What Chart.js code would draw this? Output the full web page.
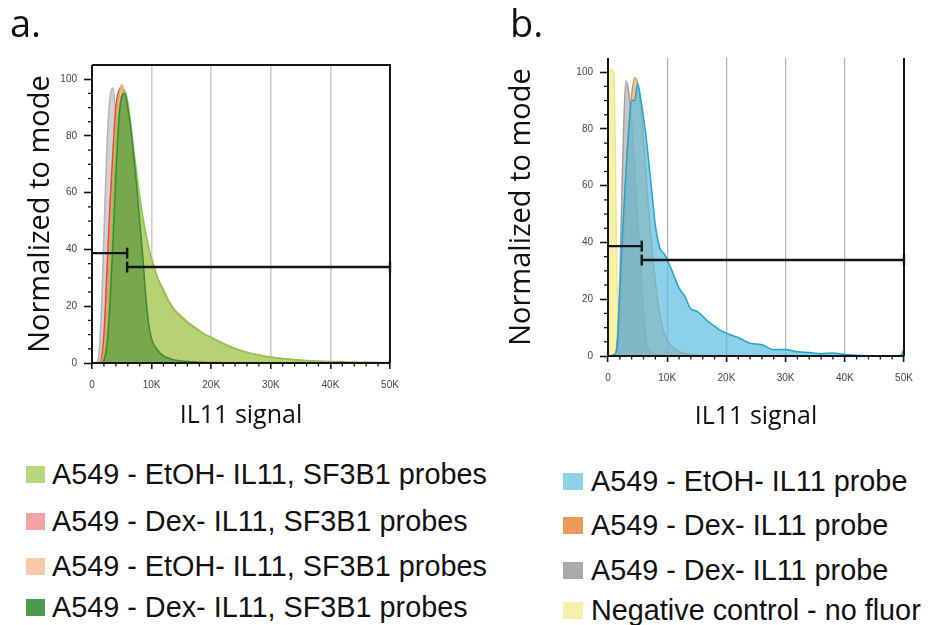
<!DOCTYPE html>
<html><head><meta charset="utf-8">
<script src="https://cdn.jsdelivr.net/npm/chart.js@4.4.1/dist/chart.umd.min.js"></script>
<style>
html,body{margin:0;padding:0;background:#fff;width:928px;height:625px;overflow:hidden;}
#wrap{position:relative;width:928px;height:625px;}
canvas{position:absolute;top:0;}
#cA{left:0;width:470px;height:440px;}
#cB{left:470px;width:458px;height:440px;}
.panel{position:absolute;font-family:'Open Sans',sans-serif;font-size:38px;line-height:38px;color:#111;}
.leg{position:absolute;display:flex;align-items:center;height:30px;font-family:'Liberation Sans',Arial,sans-serif;font-size:28.8px;line-height:30px;color:#111;white-space:nowrap;}
.sw{display:inline-block;flex:none;}
</style></head>
<body><div id="wrap">
<canvas id="cA" width="470" height="440"></canvas>
<canvas id="cB" width="458" height="440"></canvas>
<div class="panel" style="left:10px;top:3px">a.</div>
<div class="panel" style="left:510px;top:3px">b.</div>
<div id="legA"></div><div id="legB"></div>
</div>
<script>
// ---------- data ----------
const xSignal = [0,500,1000,1500,2000,2500,3000,3500,4000,4500,5000,
  5500,6000,6500,7000,7500,8000,8500,9000,9500,10000,
  11000,12000,13000,14000,15000,16000,17000,18000,19000,20000,
  22000,24000,26000,28000,30000,32000,34000,36000,38000,40000,42000,44000,46000,48000,49500,50000];

// Panel a
const aDexDarkGreen = [0,0,0,0,1,6,20,42,66,85,94, 95,90,83,73,62,50,38,24,14,8.5,
  4.5,2.5,1.6,1,0.7,0.5,0.4,0.3,0.2,0.2, 0.1,0.1,0,0,0,0,0,0,0,0,0,0,0,0,0,0];
const aEtohLightGreen = [0,0,0,0,2,9,28,54,76,89,94, 96,92,84,75,67,59,52,46,41,36.5,
  30,25,21,18,16,14.2,12.6,11.2,10,9, 6.8,5,3.7,2.8,2,1.5,1.1,0.8,0.6,0.5,0.4,0.3,0.3,0.2,0.2,0.5];
const aEtohPeach = [0,0,0,0.5,4,16,38,63,83,94,98, 95,89,81,73,65,57,50,45,40,37,
  30,26,21.5,18.5,16.5,14.5,13,11.5,10,9, 7,5.2,3.8,2.8,2.1,1.6,1.2,0.9,0.6,0.4,0.3,0.2,0.1,0.1,0.1,0];
const aDexPink = [0,0,0,1,10,32,55,74,90,96,97, 92,84,74,63,51,40,29,19,12,7,
  3.5,2,1.3,0.9,0.6,0.5,0.4,0.3,0.2,0.2, 0.1,0.1,0,0,0,0,0,0,0,0,0,0,0,0,0,0];
const aGrayControl = [0,0,1,14,45,76,93,97,86,66,45, 28,16,9,5,3,2,1.2,0.8,0.5,0.3,
  0.2,0.1,0.1,0,0,0,0,0,0,0, 0,0,0,0,0,0,0,0,0,0,0,0,0,0,0,0];

// Panel b
const bEtohBlue = [0,0,0.5,2.5,22,45,64,80,90,90,96, 91,84,76,66,56,46,40,37,36,34,
  29,24,21,16.5,15.8,14,12,10.5,9,8, 6.5,4.5,4,2.2,2.3,1.5,1.2,0.8,1.1,0.5,0.3,0.1,0.1,0.1,0.3,2.6];
const bDexOrange = [0,0,0,1,8,30,58,80,92,98,96, 88,76,62,48,36,26,18,12,8,5.5,
  3,1.6,0.9,0.5,0.3,0.2,0.1,0,0,0, 0,0,0,0,0,0,0,0,0,0,0,0,0,0,0,0];
const bDexGray = [0,0,0,4,28,70,97,93,82,66,48, 32,15,5,2,1,0.5,0.3,0.2,0.1,0,
  0,0,0,0,0,0,0,0,0,0, 0,0,0,0,0,0,0,0,0,0,0,0,0,0,0,0];
const bNegYellow = [100,101,99,30,1,0,0,0,0,0,0, 0,0,0,0,0,0,0,0,0,0,
  0,0,0,0,0,0,0,0,0,0, 0,0,0,0,0,0,0,0,0,0,0,0,0,0,0,0];

// Gates (x bounds, y level of each bracket)
const gateAx = [0, 5900, 50000];
const gateAy = [38.7, 33.8];
const gateBx = [0, 5700, 50000];
const gateBy = [38.7, 33.8];

// Axis ticks
const xTickValues = [0,10000,20000,30000,40000,50000];
const xTickLabels = ['0','10K','20K','30K','40K','50K'];
const yTickValues = [0,20,40,60,80,100];
const yTickLabels = ['0','20','40','60','80','100'];

// Legends
const legendALabels = ['A549 - EtOH- IL11, SF3B1 probes','A549 - Dex- IL11, SF3B1 probes','A549 - EtOH- IL11, SF3B1 probes','A549 - Dex- IL11, SF3B1 probes'];
const legendBLabels = ['A549 - EtOH- IL11 probe','A549 - Dex- IL11 probe','A549 - Dex- IL11 probe','Negative control - no fluor'];

// ---------- styles ----------
const legendAColors = ['#b7d77c','#f4a4a4','#f9c9a7','#4e9a4c'];
const legendBColors = ['#8fd1ea','#eb9a57','#aaaaaa','#f6f0aa'];

function pts(xs, ys){ return xs.map((x,i)=>({x:x,y:ys[i]})); }
function area(label, ys, stroke, fill){
  return {type:'line', label:label, data:pts(xSignal, ys), borderColor:stroke, backgroundColor:fill,
    borderWidth:1.5, fill:'origin', pointRadius:0, cubicInterpolationMode:'monotone', tension:0.3};
}
function gates(gx, gy){
  const base = {type:'line', borderColor:'#151515', borderWidth:2.4, fill:false, pointStyle:'line', rotation:90,
    pointBorderWidth:2.4, pointBorderColor:'#151515', clip:false, tension:0};
  return [
    Object.assign({}, base, {label:'gate-left', data:[{x:gx[0],y:gy[0]},{x:gx[1],y:gy[0]}], pointRadius:[0,5.5]}),
    Object.assign({}, base, {label:'gate-right', data:[{x:gx[1],y:gy[1]},{x:gx[2],y:gy[1]}], pointRadius:[5.5,5.5]})
  ];
}

const framePlugin = {
  id:'frame',
  afterDatasetsDraw(chart, args, opts){
    const {ctx, chartArea:a, scales:{x,y}} = chart;
    ctx.save();
    ctx.strokeStyle = '#151515';
    ctx.lineWidth = 1.3;
    for (let v = 2000; v < 50000; v += 2000){
      if (v % 10000 === 0) continue;
      const p = x.getPixelForValue(v);
      ctx.beginPath(); ctx.moveTo(p, a.bottom); ctx.lineTo(p, a.bottom + 3.5); ctx.stroke();
    }
    for (let v = 5; v < 105; v += 5){
      if (v % 20 === 0) continue;
      const p = y.getPixelForValue(v);
      ctx.beginPath(); ctx.moveTo(a.left, p); ctx.lineTo(a.left - 4, p); ctx.stroke();
    }
    ctx.lineWidth = 2;
    ctx.beginPath();
    ctx.moveTo(a.left, a.top); ctx.lineTo(a.left, a.bottom); ctx.lineTo(a.right, a.bottom);
    ctx.stroke();
    ctx.beginPath();
    if (opts.top){ ctx.moveTo(a.left, a.top); ctx.lineTo(a.right, a.top); } else { ctx.moveTo(a.right, a.top); }
    ctx.lineTo(a.right, a.bottom);
    ctx.stroke();
    ctx.restore();
  }
};

function makeChart(id, datasets, gx, gy, L){
  return new Chart(document.getElementById(id), {
    type:'line',
    data:{datasets: gates(gx, gy).concat(datasets)},
    options:{
      responsive:false, animation:false, events:[],
      layout:{padding:{top:L.top, right:L.right, left:0, bottom:0}},
      plugins:{legend:{display:false}, tooltip:{enabled:false}, frame:{top:L.frameTop}},
      scales:{
        x:{type:'linear', min:0, max:50000,
          afterBuildTicks:s=>{ s.ticks = xTickValues.map(v=>({value:v})); },
          afterFit:s=>{ s.height = L.xh; },
          ticks:{callback:(v,i)=>xTickLabels[i], font:{family:'Liberation Sans', size:10}, color:'#444', padding:10, maxRotation:0, autoSkip:false},
          grid:{drawOnChartArea:true, color:c=>(c.tick && c.tick.value>0 && c.tick.value<50000) ? L.grid : 'rgba(0,0,0,0)',
            lineWidth:L.gridW, tickLength:6, tickColor:'#151515', tickWidth:1.6},
          border:{display:false},
          title:{display:true, text:'IL11 signal', font:{family:'Open Sans', size:25}, color:'#111', padding:{top:0, bottom:L.xtPad}}
        },
        y:{type:'linear', min:0, max:105,
          afterBuildTicks:s=>{ s.ticks = yTickValues.map(v=>({value:v})); },
          afterFit:s=>{ s.width = L.yw; },
          ticks:{callback:(v,i)=>yTickLabels[i], font:{family:'Liberation Sans', size:10}, color:'#444', padding:7},
          grid:{drawOnChartArea:false, tickLength:8, tickColor:'#151515', tickWidth:1.6},
          border:{display:false},
          title:{display:true, text:'Normalized to mode', font:{family:'Open Sans', size:29}, color:'#111', padding:{top:L.ytPad, bottom:0}}
        }
      }
    },
    plugins:[framePlugin]
  });
}

makeChart('cA', [
  area('A549 - Dex- IL11, SF3B1 probes', aDexDarkGreen, '#3a8a35', 'rgba(70,135,50,0.55)'),
  area('A549 - EtOH- IL11, SF3B1 probes', aEtohLightGreen, '#8cc452', 'rgba(172,212,105,0.85)'),
  area('A549 - EtOH- IL11, SF3B1 probes', aEtohPeach, '#eea064', 'rgba(247,190,150,0.75)'),
  area('A549 - Dex- IL11, SF3B1 probes', aDexPink, '#e6483a', 'rgba(240,130,125,0.7)'),
  area('control', aGrayControl, '#b4b4b4', 'rgba(195,195,195,0.75)')
], gateAx, gateAy, {top:65, right:80, xh:77, yw:92, grid:'#cdcdcd', gridW:1.6, xtPad:9, ytPad:23, frameTop:true});

makeChart('cB', [
  area('A549 - EtOH- IL11 probe', bEtohBlue, '#22a5c9', 'rgba(95,190,225,0.72)'),
  area('A549 - Dex- IL11 probe', bDexOrange, '#e8904a', 'rgba(230,150,90,0.55)'),
  area('A549 - Dex- IL11 probe', bDexGray, '#a0a0a0', 'rgba(175,175,175,0.7)'),
  area('Negative control - no fluor', bNegYellow, '#efe68e', 'rgba(246,240,165,0.95)')
], gateBx, gateBy, {top:58, right:24, xh:84, yw:138, grid:'#b0b0b0', gridW:1.2, xtPad:8, ytPad:34, frameTop:false});

// ---------- HTML legends ----------
function buildLegend(holder, labels, colors, rows, sw){
  const h = document.getElementById(holder);
  labels.forEach((t,i)=>{
    const r = document.createElement('div');
    r.className = 'leg';
    r.style.left = rows[i][0] + 'px';
    r.style.top = rows[i][1] + 'px';
    const s = document.createElement('span');
    s.className = 'sw';
    s.style.width = sw[0] + 'px'; s.style.height = sw[1] + 'px';
    s.style.marginRight = sw[2] + 'px';
    s.style.background = colors[i];
    const tx = document.createElement('span');
    tx.textContent = t;
    r.appendChild(s); r.appendChild(tx);
    h.appendChild(r);
  });
}
buildLegend('legA', legendALabels, legendAColors, [[26,459],[26,506],[26,551],[26,592]], [19,17,7]);
buildLegend('legB', legendBLabels, legendBColors, [[563,466],[563,510],[563,555],[563,595]], [20,17,8]);
</script>
</body></html>
